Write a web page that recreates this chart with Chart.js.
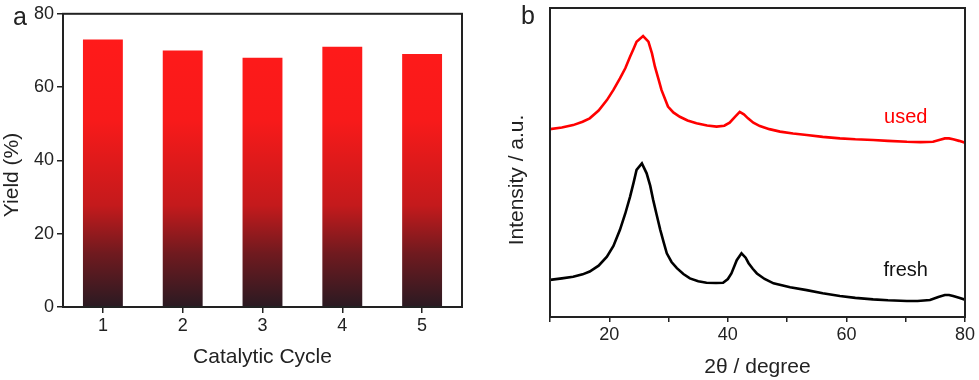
<!DOCTYPE html>
<html>
<head>
<meta charset="utf-8">
<script src="https://cdn.jsdelivr.net/npm/chart.js@4.4.1/dist/chart.umd.min.js"></script>
<style>
  html, body { margin: 0; padding: 0; background: #fff; }
  #wrap { position: relative; width: 979px; height: 380px; }
  .panel { position: absolute; top: 0; height: 380px; }
  #pa { left: 0; width: 490px; }
  #pb { left: 490px; width: 489px; }
</style>
</head>
<body>
<div id="wrap">
  <div class="panel" id="pa"><canvas id="chartA" width="490" height="380"></canvas></div>
  <div class="panel" id="pb"><canvas id="chartB" width="489" height="380"></canvas></div>
</div>
<script>
// panel a - yield per catalytic cycle
const cycles = ['1', '2', '3', '4', '5']
const yields = [73, 70, 68, 71, 69]
const yieldTicks = [0, 20, 40, 60, 80]

// panel b - XRD patterns (intensity in arbitrary units, offset)
const thetaUsed = [10, 12, 13.9, 15.5, 16.7, 18.2, 19.6, 20.7, 21.8, 22.7, 23.5, 24.1, 24.6, 25.7, 26.6, 27.2, 27.7, 28.3, 28.8, 29.9, 30.8, 31.9, 33.2, 34.7, 36.5, 38.1, 39.4, 40.3, 41.2, 42.0, 42.7, 43.4, 44.3, 45.4, 47, 48.8, 51, 53.3, 56, 58.9, 61.5, 64.5, 67, 70.2, 72.5, 74.6, 75.8, 76.6, 77.3, 78.0, 79, 80]
const intUsed = [60.8, 61.3, 62.1, 63.2, 64.3, 66.8, 70.2, 73.5, 77.2, 80.5, 84.2, 86.8, 89.1, 90.9, 89.1, 85.3, 81.0, 77.0, 73.5, 68.1, 66.2, 64.8, 63.6, 62.7, 62.0, 61.6, 61.9, 62.9, 64.8, 66.4, 65.6, 64.3, 62.9, 61.8, 60.8, 60.0, 59.4, 58.9, 58.3, 57.8, 57.5, 57.3, 57.0, 56.7, 56.6, 56.7, 57.4, 57.8, 57.8, 57.5, 57.0, 56.4]
const thetaFresh = [10, 12, 13.9, 15.5, 16.7, 18.2, 19.6, 20.7, 21.8, 22.7, 23.5, 24.1, 24.6, 25.5, 26.3, 26.9, 27.4, 28.0, 28.6, 29.2, 29.7, 30.5, 31.4, 32.5, 33.6, 35, 36.4, 38, 39.2, 40.0, 40.6, 41.5, 42.3, 43.0, 43.5, 44.2, 44.9, 46.2, 47.7, 50.5, 53.3, 56, 58.9, 61.5, 64.5, 67, 70.2, 72, 74.1, 75.5, 76.6, 77.3, 78.0, 79, 80]
const intFresh = [12.0, 12.5, 13.0, 13.8, 14.7, 16.6, 19.5, 23.0, 28.2, 33.5, 38.9, 43.5, 47.6, 49.7, 46.5, 42.5, 37.9, 33.0, 28.2, 24.0, 20.6, 17.8, 15.8, 13.9, 12.5, 11.6, 11.1, 11.0, 11.1, 12.3, 14.1, 18.4, 20.6, 19.2, 17.4, 15.6, 14.1, 12.3, 10.9, 9.6, 8.7, 7.7, 6.8, 6.2, 5.7, 5.4, 5.2, 5.2, 5.5, 6.5, 7.1, 7.1, 6.8, 6.2, 5.6]
const thetaTicks = [20, 40, 60, 80]
const usedLabelAt = [70, 64.5]
const freshLabelAt = [70, 15.2]

const family = '"Liberation Sans", Arial, sans-serif'
const ink = '#222'

const frameBox = {
  id: 'frameBox',
  afterDraw(chart) {
    const { ctx, chartArea: a } = chart
    ctx.save()
    ctx.strokeStyle = ink
    ctx.lineWidth = 2
    ctx.strokeRect(a.left, a.top, a.right - a.left, a.bottom - a.top)
    ctx.restore()
  }
}

const panelLetter = {
  id: 'panelLetter',
  afterDraw(chart, args, opts) {
    const { ctx } = chart
    ctx.save()
    ctx.fillStyle = ink
    ctx.font = '25px ' + family
    ctx.textAlign = 'center'
    ctx.textBaseline = 'alphabetic'
    ctx.fillText(opts.text, opts.x, opts.y)
    ctx.restore()
  }
}

const curveLabels = {
  id: 'curveLabels',
  afterDatasetsDraw(chart) {
    const { ctx, scales: { x, y } } = chart
    ctx.save()
    ctx.font = '20px ' + family
    ctx.textAlign = 'center'
    ctx.textBaseline = 'middle'
    chart.data.datasets.forEach(ds => {
      ctx.fillStyle = ds.textColor
      ctx.fillText(ds.label, x.getPixelForValue(ds.labelAt[0]), y.getPixelForValue(ds.labelAt[1]))
    })
    ctx.restore()
  }
}

function barGradient(c) {
  const chart = c.chart
  if (!chart.chartArea) return '#ff1a1a'
  const y = chart.scales.y
  const g = chart.ctx.createLinearGradient(0, y.getPixelForValue(Math.max(...yields)), 0, y.getPixelForValue(0))
  g.addColorStop(0, '#ff1a1a')
  g.addColorStop(0.3, '#f81a1a')
  g.addColorStop(0.62, '#c41a1c')
  g.addColorStop(0.8, '#701a1f')
  g.addColorStop(1, '#2a1a22')
  return g
}

new Chart(document.getElementById('chartA').getContext('2d'), {
  type: 'bar',
  data: {
    labels: cycles,
    datasets: [{
      data: yields,
      backgroundColor: barGradient,
      borderWidth: 0,
      barPercentage: 0.5,
      categoryPercentage: 1.0
    }]
  },
  options: {
    responsive: false,
    animation: false,
    layout: { padding: { left: 0, top: 10, right: 28, bottom: 0 } },
    plugins: {
      legend: { display: false },
      tooltip: { enabled: false },
      panelLetter: { text: 'a', x: 20, y: 25 }
    },
    scales: {
      x: {
        grid: { drawOnChartArea: false, offset: false, tickLength: 6, color: ink, lineWidth: 1.5 },
        border: { display: true, color: ink, width: 2 },
        ticks: { color: ink, font: { size: 18, family }, padding: 2 },
        title: { display: true, text: 'Catalytic Cycle', color: ink, font: { size: 21, family, lineHeight: 1.2 }, padding: { top: 0, bottom: 10 } },
        afterFit: s => { s.height = 73 }
      },
      y: {
        min: 0,
        max: 80,
        afterBuildTicks: s => { s.ticks = yieldTicks.map(v => ({ value: v })) },
        grid: { drawOnChartArea: false, tickLength: 6, color: ink, lineWidth: 1.5 },
        border: { display: true, color: ink, width: 2 },
        ticks: { color: ink, font: { size: 18, family }, padding: 3 },
        title: { display: true, text: 'Yield (%)     ', color: ink, font: { size: 21, family, lineHeight: 1.2 }, padding: { top: 0, bottom: 0 } },
        afterFit: s => { s.width = 63 }
      }
    }
  },
  plugins: [frameBox, panelLetter]
})

new Chart(document.getElementById('chartB').getContext('2d'), {
  type: 'line',
  data: {
    datasets: [
      {
        label: 'used',
        data: thetaUsed.map((x, i) => ({ x, y: intUsed[i] })),
        borderColor: '#ff0000',
        textColor: '#ff0000',
        labelAt: usedLabelAt,
        borderWidth: 2.6,
        pointRadius: 0,
        tension: 0
      },
      {
        label: 'fresh',
        data: thetaFresh.map((x, i) => ({ x, y: intFresh[i] })),
        borderColor: '#000000',
        textColor: '#111',
        labelAt: freshLabelAt,
        borderWidth: 2.6,
        pointRadius: 0,
        tension: 0
      }
    ]
  },
  options: {
    responsive: false,
    animation: false,
    layout: { padding: { left: 0, top: 8, right: 14, bottom: 0 } },
    plugins: {
      legend: { display: false },
      tooltip: { enabled: false },
      panelLetter: { text: 'b', x: 38, y: 24 }
    },
    scales: {
      x: {
        type: 'linear',
        min: 10,
        max: 80,
        ticks: {
          stepSize: 10,
          color: ink,
          font: { size: 18, family },
          padding: 2,
          callback: v => thetaTicks.includes(v) ? String(v) : ''
        },
        grid: { drawOnChartArea: false, tickLength: 5, color: ink, lineWidth: 1.5 },
        border: { display: true, color: ink, width: 2 },
        title: { display: true, text: '2θ / degree', color: ink, font: { size: 21, family, lineHeight: 1.2 }, padding: { top: 0, bottom: 0 } },
        afterFit: s => { s.height = 63 }
      },
      y: {
        min: 0,
        max: 100,
        ticks: { display: false },
        grid: { display: false },
        border: { display: true, color: ink, width: 2 },
        title: { display: true, text: 'Intensity / a.u.      ', color: ink, font: { size: 21, family, lineHeight: 1.2 }, padding: { top: 15, bottom: 0 } },
        afterFit: s => { s.width = 60 }
      }
    }
  },
  plugins: [frameBox, panelLetter, curveLabels]
})
</script>
</body>
</html>
